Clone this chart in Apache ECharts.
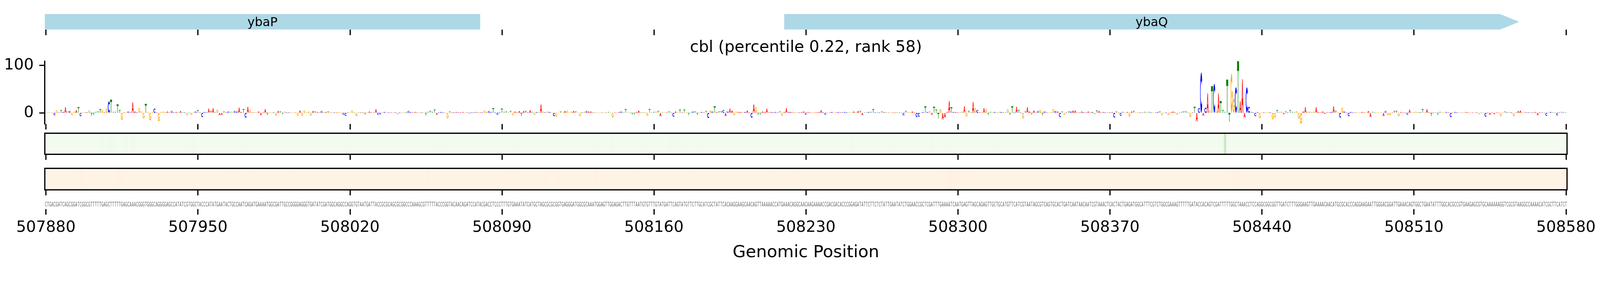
<!DOCTYPE html>
<html>
<head>
<meta charset="utf-8">
<script src="https://cdn.jsdelivr.net/npm/echarts/dist/echarts.min.js"></script>
<style>
html,body{margin:0;padding:0;background:#fff;overflow:hidden;}
#chart{width:100vw;height:100vh;}
</style>
</head>
<body>
<div id="chart"></div>
<script>
// ---------------- DATA ----------------
const TITLE = 'cbl (percentile 0.22, rank 58)';
const X_LABEL = 'Genomic Position';
const X_START = 507880;
const X_TICKS = [507880, 507950, 508020, 508090, 508160, 508230, 508300, 508370, 508440, 508510, 508580];
const Y_TICKS = [0, 100];

const GENE_NAMES = ['ybaP', 'ybaQ'];
const GENE_STARTS = [507870, 508220];
const GENE_ENDS = [508080, 508558.5];
const GENE_STRANDS = [-1, 1];

const SEQUENCE_PARTS = [
  'CTGACGATCAGCGGATCGGCGTTTTTGAGCTTTTTGAGCAAACGGGTGGGCAGGGGAGCCATATCGTGGCTACCCATATGAATACTGCCAATCAGATGAAAATGGCGATTGCCGGGGAGGGTGATATCGATGGCAGGCCAGGTGTAATGATTACCGCGCAGCGCGGCCCAAAGCGTTTTTACCCGGTACAACAGATCCATACGACCTCCCTTTGTGA',
  'AATATCATGCTAGCGCGCGGTGAGGGATGGCGCAAATGGAGTTGGAGACTTGTTTAATGTGTTTGTATGATTCAGTATGTTCTTGCATCGCTATTCACAAGGAAGCAACAGTTAAAAACCATGAAACAGGCAACAAGAAAACCGACGACACCCGGAGATATTCTTCTCTAT',
  'TGAATATCTGGAACCGCTCGATTTGAAAATCAATGAGTTAGCAGAGTTGCTGCATGTTCATCGTAATAGCGTCAGTGCACTGATCAATAACAATCGTAAACTCACTACTGAGATGGCATTTCGTCTGGCGAAAGTTTTTGATACCACAGTCGATTTTTGGCTAAACCTCCAGGC',
  'GGCGGTTGATCTTTGGGAAGTTGAAAACAACATGCGCACCCAGGAAGAATTGGGACGGATTGAAACAGTGGCTGAATATTTGGCACGCCGTGAAGAGCGTGCAAAAAAGGTCGCGTAAGGCCAAAACATCGCTTCATCT'
];

// attribution score per position (height of the logo letter), 10 per line
const VALUES = [
0.5,0.5,1,0.5,-5,6,1,6,2,12,
4,4,-5,3,6,12,-7,1,2,1,
5,-6,-5,2,3,8,6,1,9,24,
28,2,2,18,6,-15,1,1,3,1,
22,3,1,10,3,-12,19,2,-16,2,
9,1,-18,2,3,2,3,1,4,1,
2,1,4,1,1,-5,1,-4,1,3,
6,1,-9,2,1,9,4,10,1,7,
-5,-4,3,1,3,2,1,4,3,11,
2,8,-10,13,7,1,1,1,3,-5,
1,8,-5,1,1,1,-6,4,3,-3,
3,1,1,1,1,2,-6,5,-6,5,
1,2,-6,4,3,2,1,4,2,2,
3,2,1,1,1,2,1,-4,-6,1,
1,5,1,-7,1,1,1,-4,1,3,
1,1,8,-4,-3,1,2,1,1,1,
1,1,-3,1,1,1,1,4,2,1,
2,1,1,1,1,-6,2,4,2,7,
-4,1,2,1,1,-12,3,1,1,2,
1,1,2,1,1,-2,1,1,2,1,
1,1,5,1,4,2,10,1,-4,1,
9,2,3,1,4,-5,3,1,4,-7,
4,4,1,6,2,-4,2,1,18,3,
1,3,2,1,-7,-8,1,3,1,4,
5,1,3,4,3,1,-7,1,2,4,
3,3,1,1,1,1,1,1,1,2,
1,-10,1,1,2,3,1,8,1,1,
-4,-4,2,5,1,2,1,-6,8,1,
2,3,4,-7,1,1,1,3,1,-8,
3,1,7,1,7,1,-5,1,3,3,
-5,1,2,1,4,-11,5,3,14,2,
3,3,6,-7,3,9,5,-5,3,2,
2,1,2,5,1,-10,18,12,-5,-4,
3,2,9,1,2,1,2,1,3,-6,
2,10,2,2,1,2,1,1,2,3,
-4,2,1,1,1,1,2,6,1,-4,
1,1,2,1,1,2,1,1,2,1,
1,1,3,1,4,4,-5,1,1,2,
2,8,1,1,1,3,2,1,1,1,
1,1,1,1,1,-5,4,2,1,3,
1,-9,-8,1,2,14,2,4,-4,13,
7,-12,8,-14,-10,2,25,12,2,2,
1,1,3,14,-8,4,1,23,10,6,
1,2,10,8,-5,2,1,2,1,2,
2,1,1,8,-5,14,1,13,6,1,
-12,3,12,3,-4,5,2,4,6,-6,
3,1,1,1,8,4,3,-9,3,-4,
1,3,3,5,5,1,1,3,1,1,
3,1,2,-3,5,4,1,2,1,1,
1,2,-10,3,1,-6,2,1,2,-8,
3,4,1,1,1,1,2,1,2,1,
1,1,2,3,-5,1,1,-5,1,3,
1,-4,1,2,3,3,1,-9,1,13,
-18,10,85,-6,11,41,5,56,61,5,
41,25,6,2,70,-19,83,30,54,109,
25,71,-10,54,13,2,1,-7,2,-12,
1,1,1,2,1,-14,-10,6,1,3,
-3,3,1,6,2,1,4,-12,-23.4,3,
12,3,2,1,3,12,2,1,3,-2,
1,1,2,14,4,1,-10,11,3,1,
-7,2,1,1,1,1,2,1,1,4,
-9,2,1,1,1,1,-7,4,-5,-5,
1,4,4,-7,2,1,1,-4,7,1,
1,3,2,1,8,1,8,1,-7,1,
1,-5,2,1,1,2,1,-9,1,2,
1,1,1,1,2,1,1,1,1,1,
-3,1,1,-8,1,-4,1,-3,1,1,
-7,1,3,1,2,1,-7,1,4,5,
1,2,1,1,1,1,2,-5,1,1,
1,-6,1,2,1,1,-5,1,2,1,
1
];

// green heat track (percent of colour scale), 20 per line
const GREEN_TRACK = [
3,3,3,3,3,3,3,3,3,3,3,3,3,3,3,3,3,3,3,3,
3,3,3,3,3,4,4,3,4,5,5,4,3,3,3,3,4,4,3,3,
5,4,3,3,3,3,3,3,3,3,3,3,3,3,3,3,3,3,3,3,
3,3,3,3,3,3,3,4,4,3,3,3,3,3,3,3,3,3,3,3,
3,3,3,3,3,3,3,3,3,3,3,3,4,3,3,3,3,3,3,3,
3,3,3,3,3,3,3,3,3,3,3,3,3,3,3,3,3,3,3,3,
3,3,3,3,3,3,3,3,3,3,3,3,3,3,3,3,3,3,3,3,
4,3,3,3,3,3,3,3,3,3,3,3,3,3,3,3,3,3,3,3,
3,3,3,3,3,3,3,3,3,3,3,3,3,3,3,3,3,3,3,4,
3,3,3,3,3,4,3,3,3,3,3,3,3,3,3,3,3,3,3,3,
3,3,3,3,3,3,3,3,3,3,3,3,3,3,3,3,3,4,3,3,
3,3,3,3,3,3,3,3,3,3,3,3,3,3,3,3,3,3,3,3,
3,3,3,3,3,3,3,3,3,3,3,3,3,3,4,3,3,3,3,3,
3,4,3,3,3,3,3,3,3,3,3,3,3,3,3,4,3,3,3,3,
3,3,3,3,3,3,3,4,4,3,4,3,4,3,4,3,3,3,3,3,
3,3,3,4,3,3,3,3,3,3,3,3,3,3,3,3,3,3,3,3,
3,3,3,3,3,3,3,3,3,3,3,3,3,3,3,3,3,3,3,3,
3,3,3,3,3,3,3,3,3,3,3,4,3,3,3,3,3,3,3,3,
3,3,3,3,3,3,3,3,3,3,3,4,3,3,3,3,3,3,3,3,
3,3,3,3,3,3,3,3,4,3,3,3,3,3,3,3,3,3,3,3,
3,3,3,3,3,3,3,3,4,3,3,3,3,3,3,4,3,3,3,3,
3,3,3,3,3,3,3,3,3,3,3,3,3,3,3,3,3,3,3,4,
3,3,3,3,3,3,3,3,3,3,3,3,3,3,3,3,3,3,3,3,
3,3,3,3,3,3,3,3,3,3,3,3,3,3,3,3,3,3,3,3,
3,3,3,3,3,3,3,3,3,3,3,3,3,3,3,3,3,3,3,3,
3,3,3,3,3,3,3,3,3,3,3,3,3,3,3,3,3,3,3,3,
3,3,3,4,3,3,3,3,3,3,3,3,3,3,3,3,3,3,3,3,
3,3,5,25,5,3,3,3,3,3,3,3,3,3,3,3,3,3,3,3,
3,3,3,3,3,3,3,3,3,3,3,3,3,3,3,3,3,3,3,3,
3,3,3,3,3,3,3,3,3,3,3,3,3,4,3,3,3,3,3,3,
3,3,3,3,3,3,3,3,3,3,3,3,3,3,3,3,3,3,3,3,
3,3,3,3,3,3,3,3,3,3,3,3,3,3,3,3,3,3,3,3,
3,3,3,3,3,3,3,3,3,3,3,3,3,3,3,3,3,3,3,3,
3,3,3,3,3,3,3,3,3,3,3,3,3,3,3,3,3,3,3,3,
3,3,3,3,3,3,3,3,3,3,3,3,3,3,3,3,3,3,3,3,
3
];

// orange heat track (percent of colour scale), 20 per line
const ORANGE_TRACK = [
2,2,2,2,2,2,2,2,2,2,2,2,2,2,2,2,3,3,2,2,
2,2,2,2,2,2,2,2,2,2,2,2,2,3,3,3,2,2,2,2,
2,2,2,2,2,2,2,2,2,2,2,2,2,2,2,2,2,2,2,2,
2,2,2,2,2,2,2,2,2,2,2,2,2,2,2,2,2,2,2,2,
2,2,2,2,2,2,3,2,2,2,2,2,2,2,3,2,2,2,2,2,
2,2,2,2,2,2,2,2,2,2,2,2,3,2,2,2,2,2,2,2,
2,2,2,2,2,2,2,2,2,2,2,2,2,2,2,2,2,2,2,2,
2,2,2,2,2,2,2,2,2,2,2,2,2,2,2,2,2,2,2,2,
2,2,2,2,2,2,2,2,2,2,2,2,2,2,2,2,3,2,2,2,
2,2,2,2,2,2,2,2,2,2,2,2,2,2,2,2,2,2,2,2,
2,2,2,2,2,2,2,2,2,2,2,2,3,2,2,2,2,2,3,2,
2,2,2,2,2,2,2,2,2,2,3,2,2,2,2,2,3,2,2,2,
2,2,2,2,2,2,2,2,2,2,2,2,2,3,2,2,2,2,2,2,
2,2,2,2,2,2,2,2,2,2,2,3,2,2,2,2,2,2,2,2,
2,2,2,2,2,2,2,2,2,2,2,2,2,2,2,2,2,3,2,2,
2,2,2,2,2,2,2,2,2,2,2,2,2,2,2,2,2,2,2,2,
2,2,2,2,2,2,2,2,2,2,2,2,2,3,2,2,2,2,2,2,
2,2,2,2,2,2,2,3,2,2,2,2,2,2,2,2,2,2,2,2,
2,2,2,2,2,2,2,2,2,2,2,2,2,2,2,2,2,2,2,2,
2,2,2,2,2,2,2,2,2,2,2,2,2,2,2,2,2,2,2,2,
2,2,2,2,2,2,2,2,2,2,2,3,2,2,2,2,4,4,3,2,
3,2,3,2,2,2,2,3,2,2,2,2,2,2,2,2,2,2,2,2,
2,2,2,2,2,2,2,2,2,2,2,2,2,2,2,2,2,2,2,2,
2,2,2,2,2,2,2,2,2,2,2,2,2,2,2,2,2,2,2,2,
2,2,2,2,2,2,2,2,2,2,2,2,2,2,2,2,2,2,2,2,
2,2,2,2,2,2,2,2,2,2,2,2,2,2,2,2,2,2,2,2,
2,2,2,2,2,2,2,2,2,2,2,2,2,2,2,2,2,2,2,2,
2,2,2,2,2,2,3,2,3,3,2,2,2,2,2,2,2,2,2,2,
2,2,2,2,2,2,2,2,2,2,2,2,2,2,2,2,2,2,2,2,
2,2,2,2,2,2,2,2,2,2,2,2,2,2,2,2,2,2,2,2,
2,2,2,2,2,2,2,2,2,2,2,2,2,2,2,2,2,2,2,2,
2,2,2,2,2,2,2,2,2,2,2,2,2,2,2,2,2,2,2,2,
2,2,2,2,2,2,2,2,2,2,2,2,2,2,2,2,2,2,2,2,
2,2,2,2,2,2,2,2,2,2,2,2,2,2,2,2,2,2,2,2,
2,2,2,2,2,2,2,2,2,2,2,2,2,2,2,2,2,2,2,2,
2
];

// ---------------- STYLE ----------------
const FONT = '"DejaVu Sans", "Liberation Sans", sans-serif';
const BASES = 'ACGT';
const LETTER_COLORS = ['#ff0000', '#0000ff', '#ffa500', '#008000'];
const GLYPHS = [
  'M0,100 L38,0 L62,0 L100,100 L77,100 L68,76 L32,76 L23,100 Z M39,57 L61,57 L50,25 Z',
  'M88.3,17.9 A50,50 0 1 0 88.3,82.1 L72.2,68.6 A29,29 0 1 1 72.2,31.4 Z',
  'M88.3,17.9 A50,50 0 1 0 99.6,56.1 L79.8,53.7 A30,30 0 1 1 73,30.7 Z M52,45 L52,62 L100,62 L100,45 Z',
  'M0,0 L100,0 L100,19 L60,19 L60,100 L40,100 L40,19 L0,19 Z'
];
const GREENS = ['#f7fcf5','#e5f5e0','#c7e9c0','#a1d99b','#74c476','#41ab5d','#238b45','#006d2c','#00441b'];
const ORANGES = ['#fff5eb','#fee6ce','#fdd0a2','#fdae6b','#fd8d3c','#f16913','#d94801','#a63603','#7f2704'];

function hex2rgb(h){ return [parseInt(h.substr(1,2),16), parseInt(h.substr(3,2),16), parseInt(h.substr(5,2),16)]; }
function cmap(stops, v){
  v = Math.max(0, Math.min(1, v));
  const t = v * (stops.length - 1);
  const i = Math.min(stops.length - 2, Math.floor(t));
  const f = t - i;
  const a = hex2rgb(stops[i]), b = hex2rgb(stops[i+1]);
  return 'rgb(' + a.map((c,k)=>Math.round(c + (b[k]-c)*f)).join(',') + ')';
}

const chartEl = document.getElementById('chart');
const S = Math.min((chartEl.clientWidth || 4320) / 4320, (chartEl.clientHeight || 720) / 720);
function px(v) { return v * S; }
function font(size) { return px(size) + 'px ' + FONT; }

const XMIN = 507879.5, XMAX = 508580.5;
const YMIN = -23.4, YMAX = 109.2;
const GRID_LEFT = 121, GRID_WIDTH = 4110;
const TICK_W = 3.3, TICK_LEN = 15;

const SEQUENCE = SEQUENCE_PARTS.join('').split('');
const N = Math.min(SEQUENCE.length, VALUES.length);
const logoData = [], seqData = [], greenData = [], orangeData = [];
for (let i = 0; i < N; i++) {
  const li = BASES.indexOf(SEQUENCE[i]);
  logoData.push([X_START + i, VALUES[i], li]);
  seqData.push([X_START + i, 0.48, li]);
}
for (let i = 0; i < GREEN_TRACK.length; i++) greenData.push([X_START + i, GREEN_TRACK[i]]);
for (let i = 0; i < ORANGE_TRACK.length; i++) orangeData.push([X_START + i, ORANGE_TRACK[i]]);
const geneData = GENE_NAMES.map((n, i) => [GENE_STARTS[i], GENE_ENDS[i], i]);

function grid(top, height) {
  return {left: px(GRID_LEFT), width: px(GRID_WIDTH), top: px(top), height: px(height)};
}
const grids = [grid(38, 42), grid(165, 170), grid(360, 57), grid(455, 58), grid(540, 25)];

function xAxis(i, withLabels) {
  const ax = {
    type: 'value', gridIndex: i, min: XMIN, max: XMAX,
    axisLine: {show: false, onZero: false},
    axisTick: {show: true, length: px(TICK_LEN), customValues: X_TICKS, lineStyle: {color: '#000', width: px(TICK_W)}},
    axisLabel: {show: false},
    splitLine: {show: false}
  };
  if (withLabels) {
    ax.axisLabel = {show: true, customValues: X_TICKS, formatter: v => String(v), fontSize: px(42), fontFamily: FONT, color: '#000', margin: px(29)};
    ax.name = X_LABEL;
    ax.nameLocation = 'middle';
    ax.nameGap = px(95);
    ax.nameTextStyle = {fontSize: px(45.8), fontFamily: FONT, color: '#000'};
  }
  return ax;
}
function hiddenY(i) {
  return {type: 'value', gridIndex: i, min: 0, max: 1, show: false, splitLine: {show: false}};
}

function renderGene(params, api) {
  const s = api.value(0), e = api.value(1), i = api.value(2);
  const cs = params.coordSys;
  const xs = api.coord([s, 0])[0], xe = api.coord([e, 0])[0];
  const x0 = Math.max(xs, cs.x), x1 = Math.min(xe, cs.x + cs.width);
  const top = cs.y, bot = cs.y + cs.height, mid = (top + bot) / 2;
  const head = px(52);
  let pts;
  if (GENE_STRANDS[i] > 0 && xe <= cs.x + cs.width) {
    pts = [[x0, top], [x1 - head, top], [x1, mid], [x1 - head, bot], [x0, bot]];
  } else if (GENE_STRANDS[i] < 0 && xs >= cs.x) {
    pts = [[x0, mid], [x0 + head, top], [x1, top], [x1, bot], [x0 + head, bot]];
  } else {
    pts = [[x0, top], [x1, top], [x1, bot], [x0, bot]];
  }
  return {
    type: 'group',
    children: [
      {type: 'polygon', shape: {points: pts}, style: {fill: '#add8e6'}},
      {type: 'text', x: (x0 + x1) / 2, y: mid + px(3),
       style: {text: GENE_NAMES[i], font: font(33.3), fill: '#000', align: 'center', verticalAlign: 'middle'}}
    ]
  };
}

function renderLetter(params, api) {
  const pos = api.value(0), v = api.value(1), li = api.value(2);
  if (!v || li < 0) return null;
  const p1 = api.coord([pos - 0.46, Math.max(v, 0)]);
  const p2 = api.coord([pos + 0.46, Math.min(v, 0)]);
  const h = p2[1] - p1[1];
  if (h < 0.2) return null;
  return {
    type: 'path',
    shape: {pathData: GLYPHS[li], x: p1[0], y: p1[1], width: p2[0] - p1[0], height: h, layout: 'cover'},
    style: {fill: LETTER_COLORS[li]}
  };
}

function trackRenderer(stops) {
  return function (params, api) {
    const pos = api.value(0), v = api.value(1) / 100;
    const a = api.coord([pos - 0.5, 1]), b = api.coord([pos + 0.5, 0]);
    return {type: 'rect', shape: {x: a[0], y: a[1], width: b[0] - a[0] + 0.6, height: b[1] - a[1]},
            style: {fill: cmap(stops, v)}};
  };
}

function renderBox(params) {
  const cs = params.coordSys;
  return {type: 'rect', shape: {x: cs.x, y: cs.y, width: cs.width, height: cs.height},
          style: {fill: 'none', stroke: '#000', lineWidth: px(3.3)}};
}

function renderBase(params, api) {
  const pos = api.value(0), li = api.value(2);
  const p = api.coord([pos, api.value(1)]);
  return {type: 'text', x: p[0], y: p[1], scaleX: 0.45,
          style: {text: BASES[li], font: font(17), fill: '#606060', align: 'center', verticalAlign: 'middle'}};
}

const option = {
  animation: false,
  backgroundColor: '#ffffff',
  grid: grids,
  xAxis: [xAxis(0), xAxis(1), xAxis(2), xAxis(3), xAxis(4, true)],
  yAxis: [
    hiddenY(0),
    {type: 'value', gridIndex: 1, min: YMIN, max: YMAX,
     axisLine: {show: true, onZero: false, lineStyle: {color: '#000', width: px(TICK_W)}},
     axisTick: {show: true, length: px(TICK_LEN), customValues: Y_TICKS, lineStyle: {color: '#000', width: px(TICK_W)}},
     axisLabel: {show: true, customValues: Y_TICKS, formatter: v => String(v), fontSize: px(42), fontFamily: FONT, color: '#000', margin: px(30)},
     splitLine: {show: false}},
    hiddenY(2), hiddenY(3), hiddenY(4)
  ],
  graphic: [
    {type: 'text', x: px(2176), y: px(129),
     style: {text: TITLE, font: font(43), fill: '#000', align: 'center', verticalAlign: 'middle'}}
  ],
  series: [
    {type: 'custom', name: 'genes', xAxisIndex: 0, yAxisIndex: 0, clip: true, data: geneData,
     encode: {x: [0, 1]}, renderItem: renderGene, silent: true},
    {type: 'custom', name: 'logo', xAxisIndex: 1, yAxisIndex: 1, data: logoData, progressive: 0,
     encode: {x: 0, y: 1}, renderItem: renderLetter, silent: true},
    {type: 'custom', name: 'green', xAxisIndex: 2, yAxisIndex: 2, data: greenData, progressive: 0,
     encode: {x: 0}, renderItem: trackRenderer(GREENS), silent: true},
    {type: 'custom', name: 'greenBox', xAxisIndex: 2, yAxisIndex: 2, data: [[XMIN, 0.5]], z: 10,
     encode: {x: 0, y: 1}, renderItem: renderBox, silent: true},
    {type: 'custom', name: 'orange', xAxisIndex: 3, yAxisIndex: 3, data: orangeData, progressive: 0,
     encode: {x: 0}, renderItem: trackRenderer(ORANGES), silent: true},
    {type: 'custom', name: 'orangeBox', xAxisIndex: 3, yAxisIndex: 3, data: [[XMIN, 0.5]], z: 10,
     encode: {x: 0, y: 1}, renderItem: renderBox, silent: true},
    {type: 'custom', name: 'sequence', xAxisIndex: 4, yAxisIndex: 4, data: seqData, progressive: 0,
     encode: {x: 0, y: 1}, renderItem: renderBase, silent: true}
  ]
};

const chart = echarts.init(chartEl, null, {renderer: 'canvas'});
chart.setOption(option);
window.addEventListener('resize', () => chart.resize());
</script>
</body>
</html>
